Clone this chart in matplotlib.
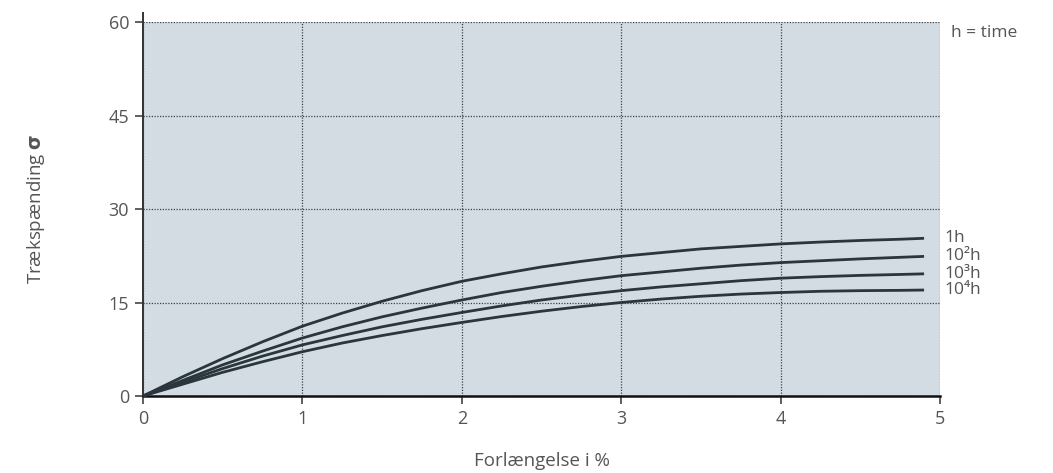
import numpy as np
import matplotlib.pyplot as plt

plt.rcParams['font.family'] = ['Open Sans', 'DejaVu Sans']

# aflæste værdier (forlængelse i %, spænding)
strain = [0, 0.25, 0.5, 0.75, 1.0, 1.25, 1.5, 1.75, 2.0, 2.25, 2.5,
          2.75, 3.0, 3.25, 3.5, 3.75, 4.0, 4.25, 4.5, 4.75, 4.9]
s_1h = [0, 3.1, 6.0, 8.7, 11.2, 13.3, 15.2, 16.9, 18.4, 19.6, 20.7,
        21.6, 22.4, 23.0, 23.6, 24.0, 24.4, 24.7, 24.95, 25.15, 25.3]
s_1e2h = [0, 2.5, 5.0, 7.2, 9.3, 11.1, 12.7, 14.1, 15.4, 16.6, 17.6,
          18.5, 19.3, 19.9, 20.5, 21.0, 21.4, 21.7, 22.0, 22.25, 22.4]
s_1e3h = [0, 2.2, 4.4, 6.4, 8.2, 9.7, 11.1, 12.3, 13.4, 14.45, 15.4,
          16.2, 16.9, 17.5, 18.0, 18.5, 18.9, 19.15, 19.35, 19.5, 19.6]
s_1e4h = [0, 1.9, 3.8, 5.5, 7.1, 8.5, 9.7, 10.8, 11.8, 12.75, 13.6,
          14.35, 15.0, 15.55, 16.0, 16.35, 16.6, 16.8, 16.9, 16.95, 17.0]
series = [s_1h, s_1e2h, s_1e3h, s_1e4h]
curve_labels = ["1h", "10²h", "10³h", "10⁴h"]

xticks = [0, 1, 2, 3, 4, 5]
yticks = [0, 15, 30, 45, 60]

bg = "#d2dce2"
line_col = "#2a363c"
txt_col = "#555555"

fig = plt.figure(figsize=(10.53, 4.73), dpi=100)
ax = fig.add_axes([143 / 1053, 1 - 396 / 473, (940 - 143) / 1053, (396 - 22) / 473])
ax.set_facecolor(bg)

for s in series:
    ax.plot(strain, s, color=line_col, lw=2.0, solid_capstyle="butt",
            solid_joinstyle="round", clip_on=False, zorder=3)

for s, lab in zip(series, curve_labels):
    ax.text(5.03, s[-1], lab, fontsize=12.5, color=txt_col, va="center", ha="left")

ax.text(5.07, 58.3, "h = time", fontsize=12.5, color=txt_col, va="center", ha="left")

ax.set_xlim(0, 5)
ax.set_ylim(0, 60)
ax.set_xticks(xticks)
ax.set_yticks(yticks)
ax.grid(True, linestyle=(0, (1, 1.2)), color="#3a4448", lw=0.9)
ax.set_axisbelow(True)

for side in ["top", "right"]:
    ax.spines[side].set_visible(False)
ax.spines["left"].set_color("#333333")
ax.spines["left"].set_linewidth(1.4)
ax.spines["left"].set_bounds(0, 61.5)
ax.spines["bottom"].set_color("#111111")
ax.spines["bottom"].set_linewidth(1.8)

ax.tick_params(axis="both", colors="#444444", labelcolor=txt_col, labelsize=13, length=6, width=1.2)
ax.tick_params(axis="x", pad=4)
ax.tick_params(axis="y", pad=4)

ax.set_xlabel("Forlængelse i %", fontsize=13.5, color=txt_col, labelpad=17)
ax.set_ylabel("Trækspænding $\\mathbf{\\sigma}$", fontsize=13.5, color=txt_col, labelpad=44)

fig.savefig("out.png", dpi=100)
